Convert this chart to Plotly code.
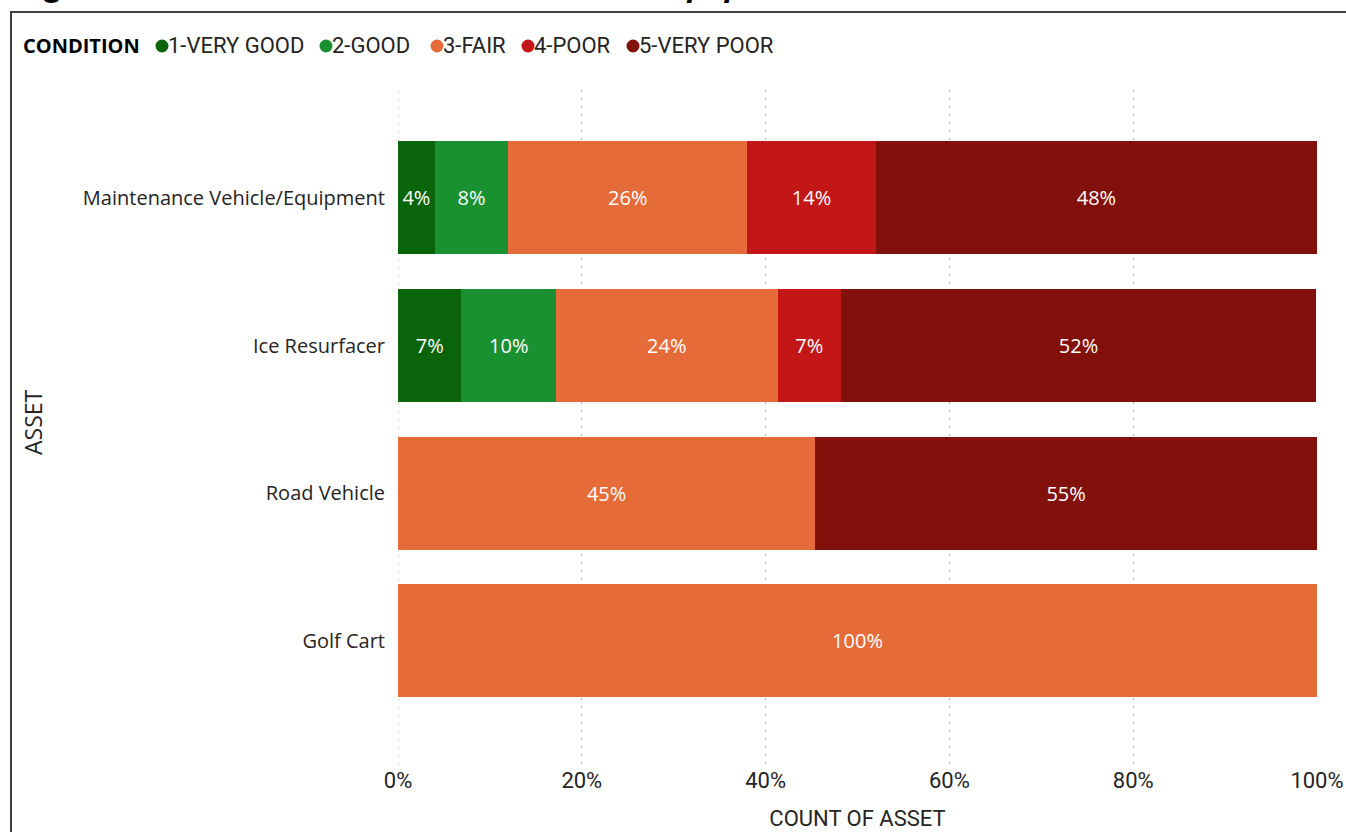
import plotly.graph_objects as go

assets = ["Maintenance Vehicle/Equipment", "Ice Resurfacer", "Road Vehicle", "Golf Cart"]
conditions = ["1-VERY GOOD", "2-GOOD", "3-FAIR", "4-POOR", "5-VERY POOR"]
colors = ["#0a650a", "#1a9131", "#e56c39", "#c31616", "#82110c"]
# percent share of each condition per asset (order follows `assets`)
very_good = [4.0, 6.9, 0, 0]
good = [8.0, 10.3, 0, 0]
fair = [26.0, 24.1, 45.4, 100.0]
poor = [14.0, 6.9, 0, 0]
very_poor = [48.0, 51.7, 54.6, 0]
series = [very_good, good, fair, poor, very_poor]
x_ticks = [0, 20, 40, 60, 80, 100]
x_tick_labels = ["0%", "20%", "40%", "60%", "80%", "100%"]

W, H = 1346, 832
L, R, T, B = 398, 29, 90, 67
pw, ph = W - L - R, H - T - B

cond_font = "Roboto, Liberation Sans, sans-serif"
cat_font = "Open Sans, Noto Sans, sans-serif"
text_col = "#252423"
grid_col = "#b0b0b0"
grid_dash = "2px,6px"


def px_x(p):
    return (p - L) / pw


def px_y(p):
    return (H - B - p) / ph


fig = go.Figure()
for name, vals, col in zip(conditions, series, colors):
    fig.add_trace(go.Bar(
        y=assets, x=vals, orientation="h", name=name,
        marker=dict(color=col, line=dict(width=0)),
        text=[f"{v:.0f}%" if v > 0 else "" for v in vals],
        textposition="inside", insidetextanchor="middle",
        textfont=dict(color="white", size=20, family=cat_font),
        hovertemplate="%{y}<br>" + name + ": %{x:.1f}%<extra></extra>",
        showlegend=False,
    ))

# legend drawn as circles + labels (Power BI style)
legend_marker_x = [162, 326, 437, 528, 633]
legend_y = 46
shapes = [
    dict(type="rect", xref="paper", yref="paper",
         x0=px_x(11), x1=px_x(1360), y0=px_y(845), y1=px_y(12),
         line=dict(color="#404040", width=2), fillcolor="rgba(0,0,0,0)", layer="below"),
    # gridline at the axis start (plotly skips the edge gridline)
    dict(type="line", xref="x", yref="paper", x0=x_ticks[0], x1=x_ticks[0], y0=0, y1=1,
         line=dict(color=grid_col, width=1, dash=grid_dash), layer="below"),
]
annotations = [
    dict(text="<b>CONDITION</b>", xref="paper", yref="paper", x=px_x(21), y=px_y(legend_y),
         xanchor="left", yanchor="middle", showarrow=False,
         font=dict(family=cat_font, size=20, color="#000")),
]
for name, col, mx in zip(conditions, colors, legend_marker_x):
    shapes.append(dict(
        type="circle", xref="paper", yref="paper",
        x0=px_x(mx - 6.5), x1=px_x(mx + 6.5), y0=px_y(legend_y + 6.5), y1=px_y(legend_y - 6.5),
        fillcolor=col, line=dict(width=0),
    ))
    annotations.append(dict(
        text=name, xref="paper", yref="paper", x=px_x(mx + 4), y=px_y(legend_y),
        xanchor="left", yanchor="middle", showarrow=False,
        font=dict(family=cond_font, size=22, color=text_col),
    ))

annotations += [
    dict(text="ASSET", xref="paper", yref="paper", x=px_x(33), y=px_y(422),
         textangle=-90, showarrow=False, xanchor="center", yanchor="middle",
         font=dict(family=cat_font, size=23, color=text_col)),
    dict(text="<b><i>Figure 6 - Recreation Maintenance Vehicles/Equipment Condition Distribution</i></b>",
         xref="paper", yref="paper", x=px_x(18), y=px_y(7), xanchor="left", yanchor="bottom",
         showarrow=False, font=dict(family="Open Sans, sans-serif", size=31, color="#000")),
]

fig.update_layout(
    width=W, height=H,
    margin=dict(l=L, r=R, t=T, b=B, autoexpand=False),
    barmode="stack", bargap=0.235,
    plot_bgcolor="white", paper_bgcolor="white",
    font=dict(family=cat_font, color=text_col, size=20),
    showlegend=False,
    xaxis=dict(
        range=[0, 100], tickvals=x_ticks, ticktext=x_tick_labels,
        showgrid=True, gridcolor=grid_col, griddash=grid_dash, gridwidth=1,
        zeroline=False, showline=False, automargin=False,
        tickfont=dict(family=cond_font, size=22, color=text_col),
        title=dict(text="COUNT OF ASSET", font=dict(family=cond_font, size=22, color=text_col), standoff=18),
        fixedrange=True,
    ),
    yaxis=dict(
        categoryorder="array", categoryarray=assets,
        range=[3.84, -0.731], automargin=False,
        showgrid=False, zeroline=False, showline=False,
        tickfont=dict(family=cat_font, size=20, color=text_col),
        ticklabelstandoff=12,
        fixedrange=True,
    ),
    shapes=shapes,
    annotations=annotations,
)

fig.write_html("out.html", config={"displayModeBar": False},
               post_script="document.body.style.margin='0px';")
